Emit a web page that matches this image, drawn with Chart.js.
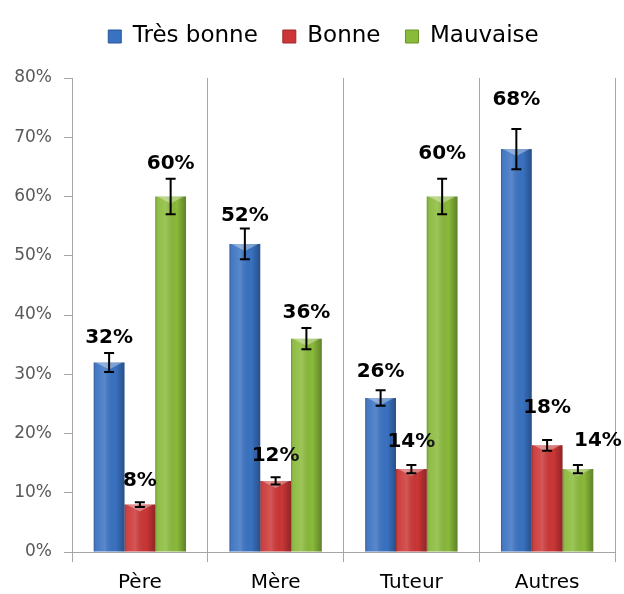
<!DOCTYPE html>
<html>
<head>
<meta charset="utf-8">
<script src="https://cdn.jsdelivr.net/npm/chart.js@4"></script>
<style>
  html, body { margin: 0; padding: 0; background: #fff; }
  #wrap { width: 624px; height: 594px; }
</style>
</head>
<body>
<div id="wrap"><canvas id="AvisChart"></canvas></div>
<script>
// data
const categories = ['Père', 'Mère', 'Tuteur', 'Autres'];
const seriesNames = ['Très bonne', 'Bonne', 'Mauvaise'];
const tresBonne = [32, 52, 26, 68];
const bonne = [8, 12, 14, 18];
const mauvaise = [60, 36, 60, 14];
// error bar half-lengths (in % points)
const errTresBonne = [1.6, 2.6, 1.3, 3.4];
const errBonne = [0.4, 0.6, 0.7, 0.9];
const errMauvaise = [3, 1.8, 3, 0.7];
const yTicks = [0, 10, 20, 30, 40, 50, 60, 70, 80];

const colors = ['#3a72c2', '#cc3636', '#8aba3a'];
const edges = ['#2a5597', '#9c2a2a', '#6a9228'];

// manual nudges of the value labels, like in the original [dx, dy]
const labelShift = [
  [[0, 0], [0, 2], [0, -3], [0, -14]],
  [[0, -6], [0, -7], [0, -8], [0, -17]],
  [[0, 0], [0, 0], [0, -10], [20, -9]]
];

const ctx = document.getElementById('AvisChart');

// shading + error bars + labels drawn on top of the bars
const barExtras = {
  id: 'barExtras',
  afterDatasetsDraw(chart) {
    const c = chart.ctx;
    const y = chart.scales.y;
    chart.data.datasets.forEach((ds, di) => {
      const meta = chart.getDatasetMeta(di);
      meta.data.forEach((bar, i) => {
        const left = bar.x - bar.width / 2;
        const right = bar.x + bar.width / 2;
        // cylinder-like shading
        const g = c.createLinearGradient(left, 0, right, 0);
        g.addColorStop(0, 'rgba(0,0,0,0.22)');
        g.addColorStop(0.1, 'rgba(255,255,255,0.06)');
        g.addColorStop(0.35, 'rgba(255,255,255,0.16)');
        g.addColorStop(0.7, 'rgba(0,0,0,0)');
        g.addColorStop(1, 'rgba(0,0,0,0.30)');
        c.save();
        c.fillStyle = g;
        c.fillRect(left, bar.y, bar.width, bar.base - bar.y);
        // lighter bevel at the top
        c.fillStyle = 'rgba(255,255,255,0.35)';
        c.beginPath();
        c.moveTo(left + 2, bar.y);
        c.lineTo(right - 2, bar.y);
        c.lineTo(bar.x, bar.y + 7);
        c.closePath();
        c.fill();
        c.restore();

        // error bar
        const v = ds.data[i];
        const e = ds.errors[i];
        const top = y.getPixelForValue(v + e);
        const bot = y.getPixelForValue(v - e);
        c.save();
        c.strokeStyle = '#000';
        c.lineWidth = 2;
        c.beginPath();
        c.moveTo(bar.x, top); c.lineTo(bar.x, bot);
        c.moveTo(bar.x - 5, top); c.lineTo(bar.x + 5, top);
        c.moveTo(bar.x - 5, bot); c.lineTo(bar.x + 5, bot);
        c.stroke();
        c.restore();

        // value label
        const sh = labelShift[di][i];
        c.save();
        c.font = 'bold 20px "DejaVu Sans"';
        c.fillStyle = '#000';
        c.textAlign = 'center';
        c.textBaseline = 'middle';
        c.fillText(v + '%', bar.x + sh[0], top - 15 + sh[1]);
        c.restore();
      });
    });
  }
};

// fixed legend height so the plot starts where it does in the picture
const legendHeight = {
  id: 'legendHeight',
  beforeInit(chart) {
    const fit = chart.legend.fit;
    chart.legend.fit = function () {
      fit.bind(chart.legend)();
      this.height = 78;
    };
  },
  afterLayout(chart) {
    // the legend sits a bit right of centre in the original
    chart.legend.left += 16;
    chart.legend.right += 16;
  }
};

let AvisChart = new Chart(ctx, {
  type: 'bar',
  data: {
    labels: categories,
    datasets: [
      { label: seriesNames[0], data: tresBonne, errors: errTresBonne,
        backgroundColor: colors[0], borderColor: edges[0], borderWidth: 0 },
      { label: seriesNames[1], data: bonne, errors: errBonne,
        backgroundColor: colors[1], borderColor: edges[1], borderWidth: 0 },
      { label: seriesNames[2], data: mauvaise, errors: errMauvaise,
        backgroundColor: colors[2], borderColor: edges[2], borderWidth: 0 }
    ]
  },
  options: {
    responsive: true,
    maintainAspectRatio: false,
    animation: false,
    layout: { padding: { top: 0, right: 9, left: 0, bottom: 0 } },
    datasets: {
      bar: { categoryPercentage: 0.68, barPercentage: 1.0 }
    },
    plugins: {
      legend: {
        position: 'top',
        labels: {
          boxWidth: 13,
          boxHeight: 13,
          padding: 25,
          color: '#000',
          font: { family: '"DejaVu Sans"', size: 23 },
          generateLabels(chart) {
            return chart.data.datasets.map((ds, i) => ({
              text: ds.label,
              fillStyle: colors[i],
              strokeStyle: edges[i],
              lineWidth: 1,
              datasetIndex: i,
              fontColor: '#000'
            }));
          }
        }
      },
      tooltip: { enabled: false }
    },
    scales: {
      x: {
        afterFit(scale) { scale.height = 42; },
        grid: {
          offset: true,
          color: '#a6a6a6',
          lineWidth: 1,
          tickLength: 10,
          drawOnChartArea: true
        },
        border: { color: '#a6a6a6' },
        ticks: {
          color: '#000',
          padding: 9,
          font: { family: '"DejaVu Sans"', size: 20 }
        }
      },
      y: {
        min: 0,
        max: 80,
        afterFit(scale) { scale.width = 72; },
        afterBuildTicks(scale) { scale.ticks = yTicks.map(v => ({ value: v })); },
        grid: {
          drawOnChartArea: false,
          color: '#a6a6a6',
          tickLength: 8
        },
        border: { color: '#a6a6a6' },
        ticks: {
          color: '#595959',
          padding: 12,
          font: { family: '"DejaVu Sans"', size: 17 },
          callback: v => v + '%'
        }
      }
    }
  },
  plugins: [legendHeight, barExtras]
});
</script>
</body>
</html>
